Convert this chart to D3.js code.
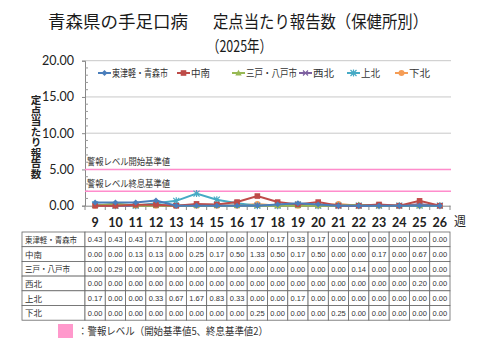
<!DOCTYPE html>
<html><head><meta charset="utf-8">
<script src="https://cdn.jsdelivr.net/npm/d3@7"></script>
<style>body{margin:0;background:#fff;}svg{display:block;}</style>
</head><body>
<svg id="c" width="480" height="360"></svg>
<script>
const weeks = [9,10,11,12,13,14,15,16,17,18,19,20,21,22,23,24,25,26];
const seriesNames = ["東津軽・青森市","中南","三戸・八戸市","西北","上北","下北"];
const higashiTsugaru = [0.43,0.43,0.43,0.71,0.00,0.00,0.00,0.00,0.00,0.17,0.33,0.17,0.00,0.00,0.00,0.00,0.00,0.00];
const chunan = [0.00,0.00,0.13,0.13,0.00,0.25,0.17,0.50,1.33,0.50,0.17,0.50,0.00,0.00,0.17,0.00,0.67,0.00];
const sannohe = [0.00,0.29,0.00,0.00,0.00,0.00,0.00,0.00,0.00,0.00,0.00,0.00,0.00,0.14,0.00,0.00,0.00,0.00];
const seihoku = [0.00,0.00,0.00,0.00,0.00,0.00,0.00,0.00,0.00,0.00,0.00,0.00,0.00,0.00,0.00,0.00,0.20,0.00];
const kamikita = [0.17,0.00,0.00,0.33,0.67,1.67,0.83,0.33,0.00,0.00,0.17,0.00,0.00,0.00,0.00,0.00,0.00,0.00];
const shimokita = [0.00,0.00,0.00,0.00,0.00,0.00,0.00,0.00,0.25,0.00,0.00,0.00,0.25,0.00,0.00,0.00,0.00,0.00];
const yTicks = [0,5,10,15,20];
const alertStart = 5;
const alertEnd = 2;
const titleLine1a = "青森県の手足口病";
const titleLine1b = "定点当たり報告数（保健所別）";
const titleLine2 = "（2025年）";
const yTitle = "定点当たり報告数";
const alertStartLabel = "警報レベル開始基準値";
const alertEndLabel = "警報レベル終息基準値";
const footNote = "：警報レベル（開始基準値5、終息基準値2）";
const weekUnit = "週";

const allSeries = [higashiTsugaru, chunan, sannohe, seihoku, kamikita, shimokita];
const colors = ["#4a7ebb","#be4b48","#98b954","#7d60a0","#46aac5","#f59d56"];
const markers = ["diamond","square","triangle","x","star","circle"];

const svg = d3.select("#c");
const jp = "'Noto Sans CJK JP', sans-serif";
const num = "Lato, 'Open Sans', sans-serif";
const pink = "#ff8ccc";

const x = d3.scaleBand().domain(weeks).range([85, 450]);
const y = d3.scaleLinear().domain([0, 20]).range([205.7, 60.7]);
const cx = w => x(w) + x.bandwidth() / 2;

function jt(g, str, px, py, size, len, anchor) {
  const t = g.append("text").attr("x", px).attr("y", py).attr("font-family", jp).attr("font-size", size).attr("fill", "#333").text(str);
  if (anchor) t.attr("text-anchor", anchor);
  if (len) t.attr("textLength", len).attr("lengthAdjust", "spacingAndGlyphs");
  return t;
}

// title
jt(svg, titleLine1a, 48, 28, 17, 140).attr("fill", "#1a1a1a");
jt(svg, titleLine1b, 213, 28, 17, 215).attr("fill", "#1a1a1a");
jt(svg, titleLine2, 207, 52, 16, 65).attr("fill", "#1a1a1a");

// gridlines
svg.append("g").selectAll("line").data(yTicks.filter(t => t > 0)).join("line")
  .attr("x1", 85).attr("x2", 451).attr("y1", d => y(d)).attr("y2", d => y(d))
  .attr("stroke", "#c8c8c8").attr("stroke-width", 1);

// y axis
const yAxis = d3.axisLeft(y).tickValues(yTicks).tickFormat(d3.format(".2f")).tickSize(3).tickPadding(8);
const gy = svg.append("g").attr("transform", "translate(85,0)").call(yAxis);
gy.select(".domain").attr("stroke", "#888");
gy.selectAll(".tick line").attr("stroke", "#888");
gy.selectAll("text").attr("font-family", num).attr("font-size", 12.5).attr("fill", "#222");
const minor = d3.range(0, 21).filter(v => v % 5 !== 0);
svg.append("g").selectAll("line").data(minor).join("line")
  .attr("x1", 85).attr("x2", 88).attr("y1", d => y(d)).attr("y2", d => y(d))
  .attr("stroke", "#999");

// x axis
const xAxis = d3.axisBottom(x).tickSize(0).tickPadding(12);
const gx = svg.append("g").attr("transform", "translate(0,205.7)").call(xAxis);
gx.select(".domain").attr("stroke", "#888");
gx.selectAll("text").attr("font-family", num).attr("font-size", 12.5).attr("fill", "#222").attr("font-weight", 700);
svg.append("g").selectAll("line").data(weeks.concat(["end"])).join("line")
  .attr("x1", (d, i) => 85 + i * x.bandwidth()).attr("x2", (d, i) => 85 + i * x.bandwidth())
  .attr("y1", 205.7).attr("y2", 210).attr("stroke", "#888");
jt(svg, weekUnit, 454, 226, 12).attr("fill", "#222");

// y title (vertical)
svg.append("text").attr("x", 36).attr("y", 95).attr("font-family", jp).attr("font-size", 10.5).attr("font-weight", 700)
  .attr("fill", "#222").attr("writing-mode", "tb").style("writing-mode", "vertical-rl").style("text-orientation", "upright")
  .text(yTitle);

// alert lines
[alertStart, alertEnd].forEach((v, i) => {
  svg.append("line").attr("x1", 85).attr("x2", 451).attr("y1", y(v)).attr("y2", y(v)).attr("stroke", pink).attr("stroke-width", 1.6);
  jt(svg, i === 0 ? alertStartLabel : alertEndLabel, 87, y(v) - 4, 9.5, 83);
});

function drawMarker(g, type, px, py, color) {
  const s = 3;
  if (type === "diamond") g.append("path").attr("d", `M${px},${py-s}L${px+s},${py}L${px},${py+s}L${px-s},${py}Z`).attr("fill", color);
  else if (type === "square") g.append("rect").attr("x", px-2.8).attr("y", py-2.8).attr("width", 5.6).attr("height", 5.6).attr("fill", color);
  else if (type === "triangle") g.append("path").attr("d", `M${px},${py-3.2}L${px+3.2},${py+2.4}L${px-3.2},${py+2.4}Z`).attr("fill", color);
  else if (type === "x") g.append("path").attr("d", `M${px-2.5},${py-2.5}L${px+2.5},${py+2.5}M${px-2.5},${py+2.5}L${px+2.5},${py-2.5}`).attr("stroke", color).attr("stroke-width", 1.2);
  else if (type === "star") g.append("path").attr("d", `M${px-3},${py-3}L${px+3},${py+3}M${px-3},${py+3}L${px+3},${py-3}M${px},${py-3.5}L${px},${py+3.5}`).attr("stroke", color).attr("stroke-width", 1.2);
  else g.append("circle").attr("cx", px).attr("cy", py).attr("r", 3).attr("fill", color);
}

// series
const line = d3.line().x((d, i) => cx(weeks[i])).y(d => y(d));
const sg = svg.append("g");
[5,4,3,2,1,0].forEach(k => {
  sg.append("path").attr("d", line(allSeries[k])).attr("fill", "none").attr("stroke", colors[k]).attr("stroke-width", 2);
  allSeries[k].forEach((v, i) => drawMarker(sg, markers[k], cx(weeks[i]), y(v), colors[k]));
});

// legend
const legX = [98, 177, 232, 299, 347, 395];
const legW = [56, 19, 51, 21, 19, 21];
const lg = svg.append("g");
seriesNames.forEach((n, k) => {
  const lx = legX[k], ly = 73;
  lg.append("line").attr("x1", lx).attr("x2", lx + 13).attr("y1", ly).attr("y2", ly).attr("stroke", colors[k]).attr("stroke-width", 2);
  drawMarker(lg, markers[k], lx + 6.5, ly, colors[k]);
  jt(lg, n, lx + 14, ly + 3.5, 10, legW[k]);
});

// table
const tTop = 232, rowH = 14.7, labelX0 = 22;
const tblW = [52, 0, 45, 0, 0, 0];
const tg = svg.append("g");
seriesNames.forEach((n, k) => {
  const ry = tTop + k * rowH;
  tg.append("rect").attr("x", labelX0).attr("y", ry).attr("width", 85 - labelX0).attr("height", rowH).attr("fill", "#fff").attr("stroke", "#666").attr("stroke-width", 0.8);
  jt(tg, n, labelX0 + 3, ry + rowH / 2 + 3.5, 8.5, tblW[k] || null);
  allSeries[k].forEach((v, i) => {
    tg.append("rect").attr("x", x(weeks[i])).attr("y", ry).attr("width", x.bandwidth()).attr("height", rowH).attr("fill", "#fff").attr("stroke", "#666").attr("stroke-width", 0.8);
    tg.append("text").attr("x", cx(weeks[i])).attr("y", ry + rowH / 2 + 3).attr("text-anchor", "middle").attr("font-family", "'Liberation Sans', Arial, sans-serif").attr("font-size", 7.5).attr("fill", "#333").text(v.toFixed(2));
  });
});

// footnote
svg.append("rect").attr("x", 58).attr("y", 324).attr("width", 15).attr("height", 14).attr("fill", "#ff99cc");
jt(svg, footNote, 78, 335, 10.5, 190);
</script>
</body></html>
